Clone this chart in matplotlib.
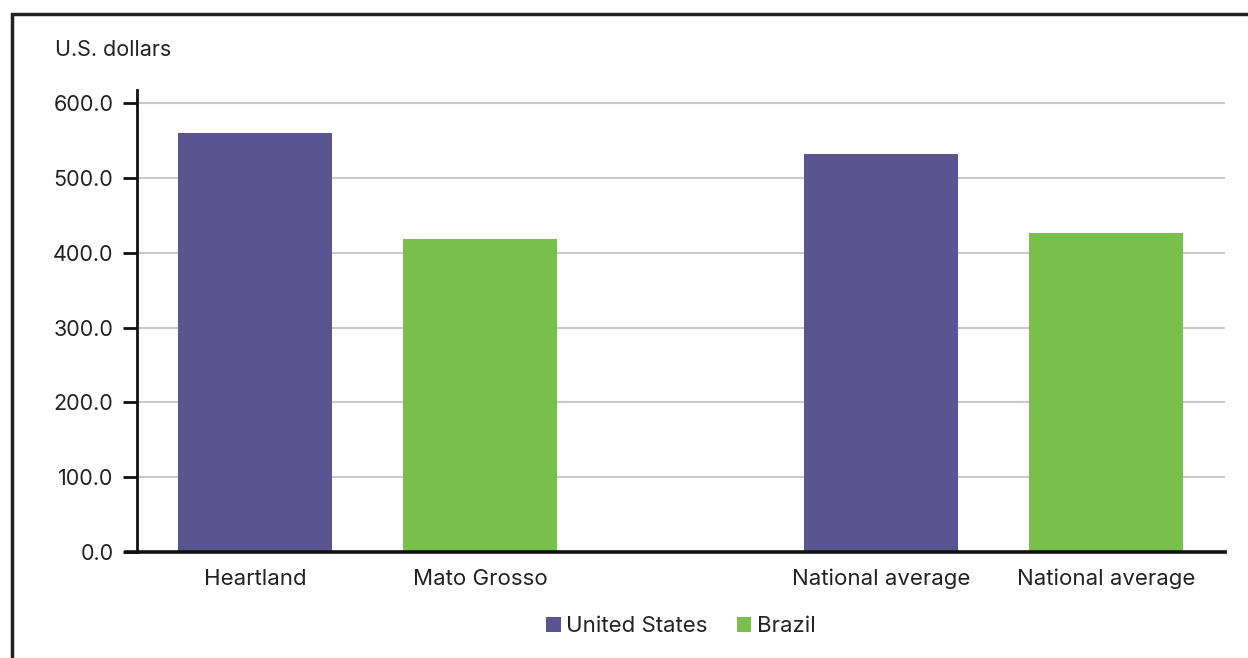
import matplotlib
matplotlib.use("Agg")
import matplotlib.pyplot as plt
from matplotlib.patches import Patch, Rectangle
from matplotlib.lines import Line2D

plt.rcParams["font.family"] = ["Inter", "DejaVu Sans"]

# Soybean production cost per acre by region
categories = ["Heartland", "Mato Grosso", "National average", "National average"]
series = ["United States", "Brazil", "United States", "Brazil"]
values = [560.0, 418.5, 532.0, 426.5]
colors = {"United States": "#5a5490", "Brazil": "#78c04b"}
ytick_values = [0, 100, 200, 300, 400, 500, 600]
ytick_labels = ["0.0", "100.0", "200.0", "300.0", "400.0", "500.0", "600.0"]
y_unit_label = "U.S. dollars"

W, H = 1248, 658
fig = plt.figure(figsize=(W / 100, H / 100), dpi=100)
ax = fig.add_axes([137 / W, 1 - 552 / H, (1225 - 137) / W, (552 - 90) / H])

# two groups of two bars; second group shifted right
group_gap = 2.784
positions = [0, 1, group_gap, group_gap + 1]
bar_width = 0.684
for x, v, s in zip(positions, values, series):
    ax.bar(x, v, width=bar_width, color=colors[s], zorder=2)

ax.set_xlim(-0.5244, 4.311)
ax.set_ylim(0, 617.5)

ax.set_yticks(ytick_values)
ax.set_yticklabels(ytick_labels)
ax.yaxis.grid(True, color="#c8c8c8", linewidth=1.5, zorder=0)
ax.set_axisbelow(True)
ax.tick_params(axis="y", direction="out", length=10, width=2, color="#111111",
               pad=7, labelsize=15.5, labelcolor="#222222")

ax.set_xticks(positions)
ax.set_xticklabels(categories)
ax.tick_params(axis="x", length=0, pad=12, labelsize=16, labelcolor="#222222")

for side in ("top", "right"):
    ax.spines[side].set_visible(False)
ax.spines["left"].set_linewidth(2)
ax.spines["left"].set_color("#111111")
ax.spines["bottom"].set_visible(False)
# baseline reaching out to the zero tick
ax.add_line(Line2D([-0.5244 - 11 / 225, 4.311], [0, 0], color="#111111",
                   linewidth=2.6, clip_on=False, zorder=3))

fig.text(55 / W, 1 - 50 / H, y_unit_label, ha="left", va="center",
         fontsize=15.5, color="#222222")

handles = [Patch(facecolor=colors["United States"], label="United States"),
           Patch(facecolor=colors["Brazil"], label="Brazil")]
fig.legend(handles=handles, loc="center", bbox_to_anchor=(681 / W, 1 - 626 / H),
           ncol=2, frameon=False, fontsize=16, handlelength=0.65,
           handleheight=0.65, handletextpad=0.25, columnspacing=1.3,
           labelcolor="#222222")

# outer frame
fig.patches.append(Rectangle((12 / W, -0.1), 1.2, 1 - 14 / H + 0.1,
                             transform=fig.transFigure, fill=False,
                             edgecolor="#222222", linewidth=2.5))

fig.savefig("out.png", dpi=100, facecolor="white")
